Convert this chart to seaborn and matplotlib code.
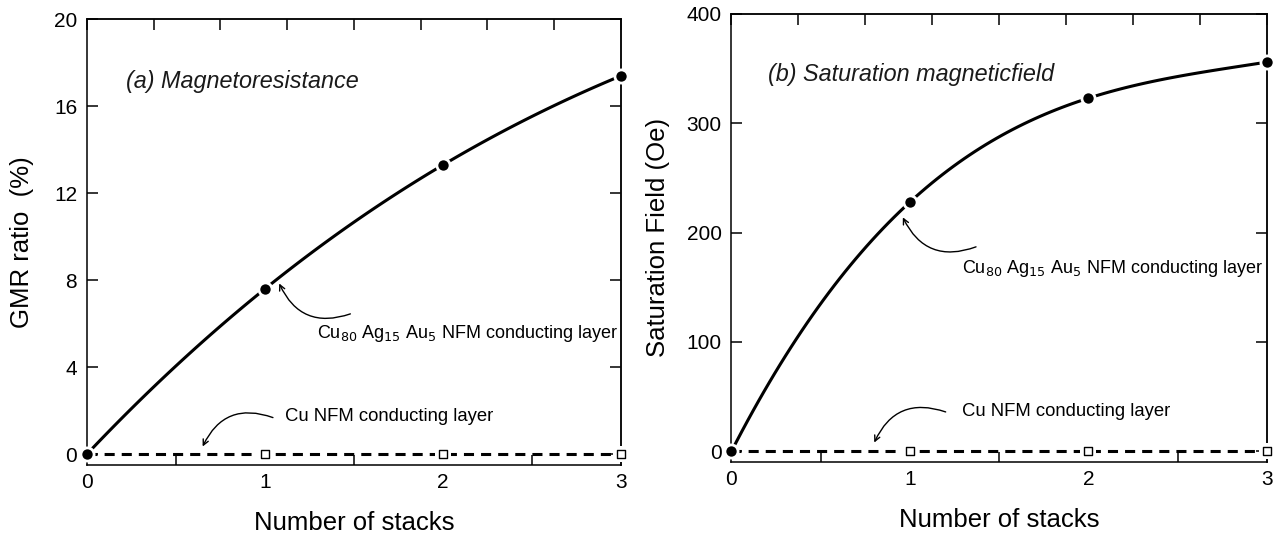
import numpy as np
import pandas as pd
import seaborn as sns
import matplotlib.pyplot as plt
from matplotlib.ticker import MultipleLocator, NullFormatter

# data
stacks = [0, 1, 2, 3]
gmr_cuagau = [0.0, 7.6, 13.3, 17.4]      # GMR ratio (%) with Cu80Ag15Au5 NFM
gmr_cu = [0.0, 0.0, 0.0, 0.0]            # GMR ratio (%) with Cu NFM
hs_cuagau = [0.0, 228.0, 323.0, 356.0]   # saturation field (Oe) with Cu80Ag15Au5 NFM
hs_cu = [0.0, 0.0, 0.0, 0.0]             # saturation field (Oe) with Cu NFM

sns.set_style("ticks")
plt.rcParams['font.family'] = ['Liberation Sans', 'DejaVu Sans']
plt.rcParams['text.color'] = 'black'
plt.rcParams['axes.labelcolor'] = 'black'
plt.rcParams['xtick.color'] = 'black'
plt.rcParams['ytick.color'] = 'black'

fig = plt.figure(figsize=(12.75, 5.42), dpi=100)
ax_a = fig.add_axes([0.0682, 0.1421, 0.4188, 0.8223])
ax_b = fig.add_axes([0.5737, 0.1482, 0.4200, 0.8260])

alloy_lbl = r'Cu$_{80}$ Ag$_{15}$ Au$_{5}$ NFM conducting layer'
cu_lbl = 'Cu NFM conducting layer'


def draw_panel(ax, y_alloy, y_cu, ylim, yticks, ylabel, ylab_x, title,
               title_xy, alloy_txt, alloy_tail, alloy_tip,
               cu_txt, cu_tail, cu_tip):
    df = pd.DataFrame({'n': stacks, 'alloy': y_alloy, 'cu': y_cu})
    # smooth curve through the alloy points
    sns.regplot(data=df, x='n', y='alloy', order=3, ci=None, scatter=False,
                color='black', line_kws={'lw': 2.2, 'zorder': 2}, ax=ax)
    # dashed Cu line
    sns.lineplot(data=df, x='n', y='cu', color='black', lw=2.2, ax=ax,
                 zorder=2)
    ax.lines[-1].set_dashes([3.3, 2.3])
    ax.lines[-1].set_clip_on(False)
    # open squares with a white halo that breaks the dashes
    sq = df[df.n > 0]
    sns.scatterplot(data=sq, x='n', y='cu', marker='s', s=130, color='white',
                    linewidth=0, ax=ax, zorder=4, clip_on=False)
    sns.scatterplot(data=sq, x='n', y='cu', marker='s', s=40, color='white',
                    edgecolor='black', linewidth=1.0, ax=ax, zorder=5,
                    clip_on=False)
    # filled circles with a white halo
    sns.scatterplot(data=df, x='n', y='alloy', marker='o', s=90,
                    color='black', edgecolor='white', linewidth=2.0, ax=ax,
                    zorder=6, clip_on=False)

    ax.set_xlim(0, 3)
    ax.set_ylim(*ylim)
    ax.set_xticks([0, 1, 2, 3])
    ax.xaxis.set_minor_locator(MultipleLocator(0.5))
    ax.tick_params(axis='x', which='major', length=0, pad=6, labelsize=15)
    ax.tick_params(axis='x', which='minor', direction='in', length=7,
                   width=1.1, color='black')
    ax.set_yticks(yticks)
    ax.tick_params(axis='y', direction='in', length=8, width=1.1,
                   pad=7, labelsize=15, color='black')
    for s in ax.spines.values():
        s.set_linewidth(1.1)
        s.set_color('black')

    top = ax.secondary_xaxis('top')
    top.set_xticks(np.arange(0, 3.001, 0.375))
    top.xaxis.set_major_formatter(NullFormatter())
    top.tick_params(direction='in', length=8, width=1.1, color='black')
    top.spines['top'].set_linewidth(1.1)
    right = ax.secondary_yaxis('right')
    right.set_yticks(yticks)
    right.yaxis.set_major_formatter(NullFormatter())
    right.tick_params(direction='in', length=8, width=1.1, color='black')
    right.spines['right'].set_linewidth(1.1)

    ax.set_xlabel('Number of stacks', fontsize=18.5, va='top')
    ax.xaxis.set_label_coords(0.5, -0.103)
    ax.set_ylabel(ylabel, fontsize=18.5)
    ax.yaxis.set_label_coords(ylab_x, 0.5)

    ax.text(title_xy[0], title_xy[1], title, style='italic', fontsize=16.8,
            color='#1a1a1a', va='center', ha='left')

    arrow = dict(arrowstyle='->', color='black', lw=1.0,
                 shrinkA=0, shrinkB=0, mutation_scale=10)
    ax.annotate('', xy=alloy_tip, xytext=alloy_tail,
                arrowprops=dict(arrow, connectionstyle='arc3,rad=-0.45'))
    ax.text(alloy_txt[0], alloy_txt[1], alloy_lbl, fontsize=13,
            va='center', ha='left')
    ax.annotate('', xy=cu_tip, xytext=cu_tail,
                arrowprops=dict(arrow, connectionstyle='arc3,rad=0.45'))
    ax.text(cu_txt[0], cu_txt[1], cu_lbl, fontsize=13.3, va='center',
            ha='left')


draw_panel(ax_a, gmr_cuagau, gmr_cu, (-0.5, 20), [0, 4, 8, 12, 16, 20],
           'GMR ratio  (%)', -0.099, '(a) Magnetoresistance', (0.22, 17.15),
           (1.29, 5.55), (1.48, 6.45), (1.08, 7.85),
           (1.115, 1.75), (1.045, 1.68), (0.65, 0.35))

draw_panel(ax_b, hs_cuagau, hs_cu, (-9.5, 400), [0, 100, 200, 300, 400],
           'Saturation Field (Oe)', -0.115, '(b) Saturation magneticfield',
           (0.205, 345),
           (1.29, 167), (1.37, 187), (0.96, 214),
           (1.29, 36), (1.20, 36), (0.80, 8))

fig.savefig('out.png', dpi=100)
